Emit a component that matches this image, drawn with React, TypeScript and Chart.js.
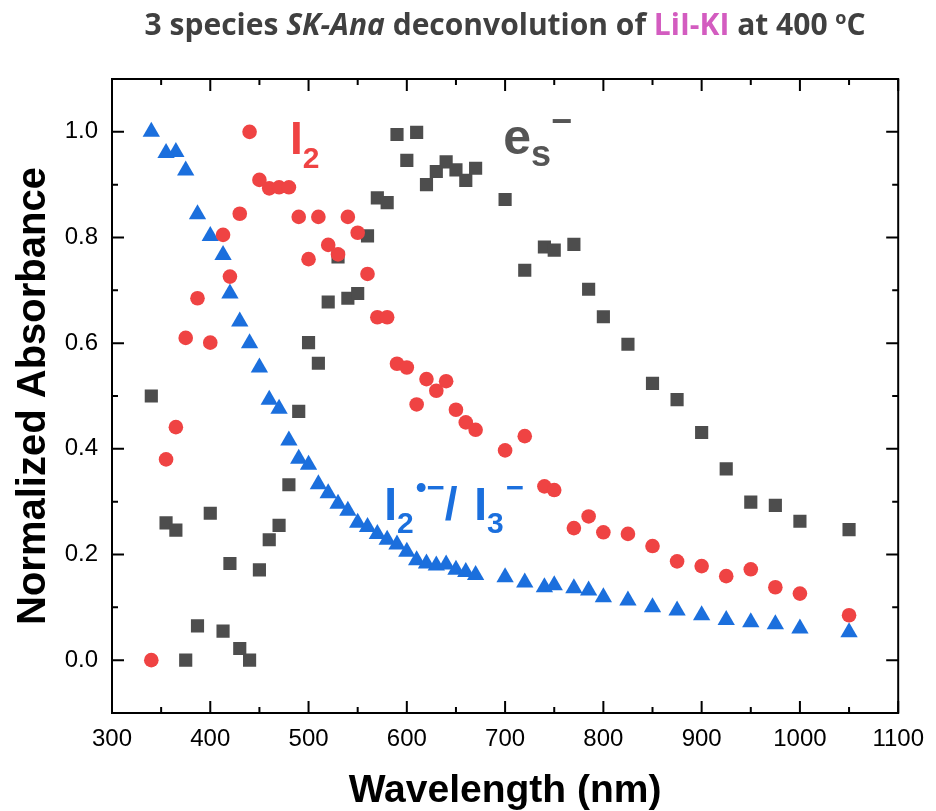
import { useEffect, useRef } from 'react';
import { Chart, registerables } from 'chart.js';

Chart.register(...registerables);

// ---------------- data ----------------
const wavelengths = [
  340, 355, 365, 375, 387, 400, 413, 420, 430, 440, 450, 460, 470, 480,
  490, 500, 510, 520, 530, 540, 550, 560, 570, 580, 590, 600, 610, 620, 630,
  640, 650, 660, 670, 700, 720, 740, 750, 770, 785, 800, 825, 850, 875, 900,
  925, 950, 975, 1000, 1050,
];

const i2Values = [
  0.0, 0.38, 0.441, 0.61, 0.685, 0.601, 0.805, 0.726, 0.845, 1.0, 0.909, 0.893, 0.895, 0.895,
  0.839, 0.759, 0.839, 0.786, 0.768, 0.839, 0.809, 0.731, 0.649, 0.649, 0.561, 0.554, 0.484,
  0.532, 0.51, 0.528, 0.474, 0.45, 0.436, 0.397, 0.424, 0.329, 0.322, 0.25, 0.272, 0.242,
  0.239, 0.216, 0.187, 0.178, 0.159, 0.172, 0.138, 0.126, 0.085,
];

const i2i3Values = [
  1.0, 0.96, 0.962, 0.927, 0.844, 0.803, 0.767, 0.694, 0.641, 0.6, 0.554, 0.493, 0.476, 0.416,
  0.381, 0.37, 0.333, 0.316, 0.296, 0.283, 0.26, 0.252, 0.239, 0.228, 0.219, 0.205, 0.189,
  0.183, 0.179, 0.181, 0.171, 0.167, 0.161, 0.157, 0.147, 0.138, 0.142, 0.136, 0.132, 0.119,
  0.113, 0.1, 0.094, 0.085, 0.076, 0.072, 0.068, 0.06, 0.053,
];

const esValues = [
  0.5, 0.26, 0.246, 0.0, 0.065, 0.278, 0.055, 0.183, 0.022, 0.0, 0.171, 0.228, 0.255, 0.332,
  0.471, 0.601, 0.562, 0.678, 0.763, 0.685, 0.694, 0.803, 0.875, 0.866, 0.995, 0.946, 0.999,
  0.9, 0.925, 0.943, 0.928, 0.908, 0.931, 0.872, 0.738, 0.782, 0.776, 0.787, 0.702, 0.65,
  0.598, 0.524, 0.493, 0.431, 0.362, 0.299, 0.293, 0.263, 0.247,
];

const xTickValues = [300, 400, 500, 600, 700, 800, 900, 1000, 1100];
const xMinorValues = [350, 450, 550, 650, 750, 850, 950, 1050];
const yTickValues = [0.0, 0.2, 0.4, 0.6, 0.8, 1.0];
const yMinorValues = [0.1, 0.3, 0.5, 0.7, 0.9];

// ---------------- styles ----------------
const RED = '#EF4343';
const BLUE = '#1B6FDD';
const GRAY = '#4D4D4D';
const TITLE_GRAY = '#404040';
const PINK = '#D35CC0';
const SANS = '"Liberation Sans", Arial, sans-serif';
const TITLE_FONT = '"Open Sans", Roboto, sans-serif';

type Run = { text: string; font: string; color: string; dy?: number; dx?: number };

function drawRuns(ctx: CanvasRenderingContext2D, x: number, y: number, runs: Run[], align: 'left' | 'center') {
  ctx.save();
  ctx.textBaseline = 'alphabetic';
  ctx.textAlign = 'left';
  let total = 0;
  for (const r of runs) {
    ctx.font = r.font;
    total += ctx.measureText(r.text).width + (r.dx || 0);
  }
  let cx = align === 'center' ? x - total / 2 : x;
  for (const r of runs) {
    ctx.font = r.font;
    ctx.fillStyle = r.color;
    cx += r.dx || 0;
    ctx.fillText(r.text, cx, y + (r.dy || 0));
    cx += ctx.measureText(r.text).width;
  }
  ctx.restore();
}

// annotation anchors, in data units (wavelength, absorbance) at the text baseline-left
const annotations: { x: number; y: number; runs: Run[] }[] = [
  {
    x: 481, y: 0.958,
    runs: [
      { text: 'I', font: `bold 46px ${SANS}`, color: RED },
      { text: '2', font: `bold 30px ${SANS}`, color: RED, dy: 14 },
    ],
  },
  {
    x: 698, y: 0.958,
    runs: [
      { text: 'e', font: `bold 50px ${SANS}`, color: '#555555' },
      { text: 's', font: `bold 36px ${SANS}`, color: '#555555', dy: 12 },
      { text: '\u2212', font: `bold 36px ${SANS}`, color: '#555555', dy: -21 },
    ],
  },
  {
    x: 577, y: 0.265,
    runs: [
      { text: 'I', font: `bold 46px ${SANS}`, color: BLUE },
      { text: '2', font: `bold 30px ${SANS}`, color: BLUE, dy: 13 },
      { text: '\u2022\u2212', font: `bold 31px ${SANS}`, color: BLUE, dy: -22, dx: 2 },
      { text: '/', font: `bold 46px ${SANS}`, color: BLUE },
      { text: ' I', font: `bold 46px ${SANS}`, color: BLUE, dx: 4 },
      { text: '3', font: `bold 30px ${SANS}`, color: BLUE, dy: 13 },
      { text: '\u2212', font: `bold 31px ${SANS}`, color: BLUE, dy: -22, dx: 2 },
    ],
  },
];

const framePlugin = {
  id: 'frame',
  afterDraw(chart: any) {
    const { ctx, chartArea } = chart;
    const { left, right, top, bottom } = chartArea;
    const xs = chart.scales.x;
    const ys = chart.scales.y;
    ctx.save();
    ctx.strokeStyle = '#000';
    ctx.lineWidth = 2;
    ctx.beginPath();
    const major = 12;
    const minor = 6;
    for (const v of xTickValues) {
      const px = xs.getPixelForValue(v);
      ctx.moveTo(px, bottom); ctx.lineTo(px, bottom - major);
      ctx.moveTo(px, top); ctx.lineTo(px, top + major);
    }
    for (const v of xMinorValues) {
      const px = xs.getPixelForValue(v);
      ctx.moveTo(px, bottom); ctx.lineTo(px, bottom - minor);
      ctx.moveTo(px, top); ctx.lineTo(px, top + minor);
    }
    for (const v of yTickValues) {
      const py = ys.getPixelForValue(v);
      ctx.moveTo(left, py); ctx.lineTo(left + major, py);
      ctx.moveTo(right, py); ctx.lineTo(right - major, py);
    }
    for (const v of yMinorValues) {
      const py = ys.getPixelForValue(v);
      ctx.moveTo(left, py); ctx.lineTo(left + minor, py);
      ctx.moveTo(right, py); ctx.lineTo(right - minor, py);
    }
    ctx.stroke();
    ctx.strokeRect(left, top, right - left, bottom - top);
    ctx.restore();

    for (const a of annotations) {
      drawRuns(ctx, xs.getPixelForValue(a.x), ys.getPixelForValue(a.y), a.runs, 'left');
    }

    const cx = (left + right) / 2;
    const b = `bold 30px ${TITLE_FONT}`;
    drawRuns(ctx, cx, 35, [
      { text: '3 species ', font: b, color: TITLE_GRAY },
      { text: 'SK-Ana', font: `italic bold 30px ${TITLE_FONT}`, color: TITLE_GRAY },
      { text: ' deconvolution of ', font: b, color: TITLE_GRAY },
      { text: 'LiI-KI', font: b, color: PINK },
      { text: ' at 400 ', font: b, color: TITLE_GRAY },
      { text: 'o', font: `bold 18px ${TITLE_FONT}`, color: TITLE_GRAY, dy: -11 },
      { text: 'C', font: b, color: TITLE_GRAY },
    ], 'center');
  },
};

export default function App() {
  const ref = useRef<HTMLCanvasElement>(null);
  useEffect(() => {
    document.body.style.margin = '0';
    const pts = (vals: number[]) => wavelengths.map((x, i) => ({ x, y: vals[i] }));
    const chart = new Chart(ref.current as HTMLCanvasElement, {
      type: 'scatter',
      data: {
        datasets: [
          {
            label: 'I2', data: pts(i2Values), pointStyle: 'circle', pointRadius: 7.3,
            backgroundColor: RED, borderColor: RED, borderWidth: 0,
          },
          {
            label: 'I2-/I3-', data: pts(i2i3Values), pointStyle: 'triangle', pointRadius: 10,
            backgroundColor: BLUE, borderColor: BLUE, borderWidth: 0,
          },
          {
            label: 'es-', data: pts(esValues), pointStyle: 'rect', pointRadius: 9.3,
            backgroundColor: GRAY, borderColor: GRAY, borderWidth: 0,
          },
        ],
      },
      options: {
        responsive: false,
        animation: false,
        layout: { padding: { top: 79, right: 36, left: 0, bottom: 0 } },
        plugins: { legend: { display: false }, tooltip: { enabled: false } },
        scales: {
          x: {
            type: 'linear', position: 'bottom', min: 300, max: 1100,
            grid: { display: false, drawTicks: false },
            border: { display: false },
            afterBuildTicks: (s: any) => { s.ticks = xTickValues.map((v) => ({ value: v })); },
            afterFit: (s: any) => { s.height = 98; },
            ticks: {
              font: { family: SANS, size: 24 }, color: '#000', padding: 12,
              maxRotation: 0, autoSkip: false, callback: (v: any) => String(v),
            },
            title: {
              display: true, text: 'Wavelength (nm)', color: '#000', padding: 0,
              font: { family: SANS, size: 39, weight: 'bold', lineHeight: 1 },
            },
          },
          y: {
            type: 'linear', position: 'left', min: -0.1, max: 1.1,
            grid: { display: false, drawTicks: false },
            border: { display: false },
            afterBuildTicks: (s: any) => { s.ticks = yTickValues.map((v) => ({ value: v })); },
            afterFit: (s: any) => { s.width = 112; },
            ticks: {
              font: { family: SANS, size: 24 }, color: '#000', padding: 14,
              autoSkip: false, callback: (v: any) => Number(v).toFixed(1),
            },
            title: {
              display: true, text: 'Normalized Absorbance', color: '#000', padding: { top: 14, bottom: 0 },
              font: { family: SANS, size: 40, weight: 'bold', lineHeight: 1 },
            },
          },
        },
      },
      plugins: [framePlugin],
    } as any);
    return () => chart.destroy();
  }, []);
  return <canvas ref={ref} width={936} height={811} style={{ display: 'block' }} />;
}
